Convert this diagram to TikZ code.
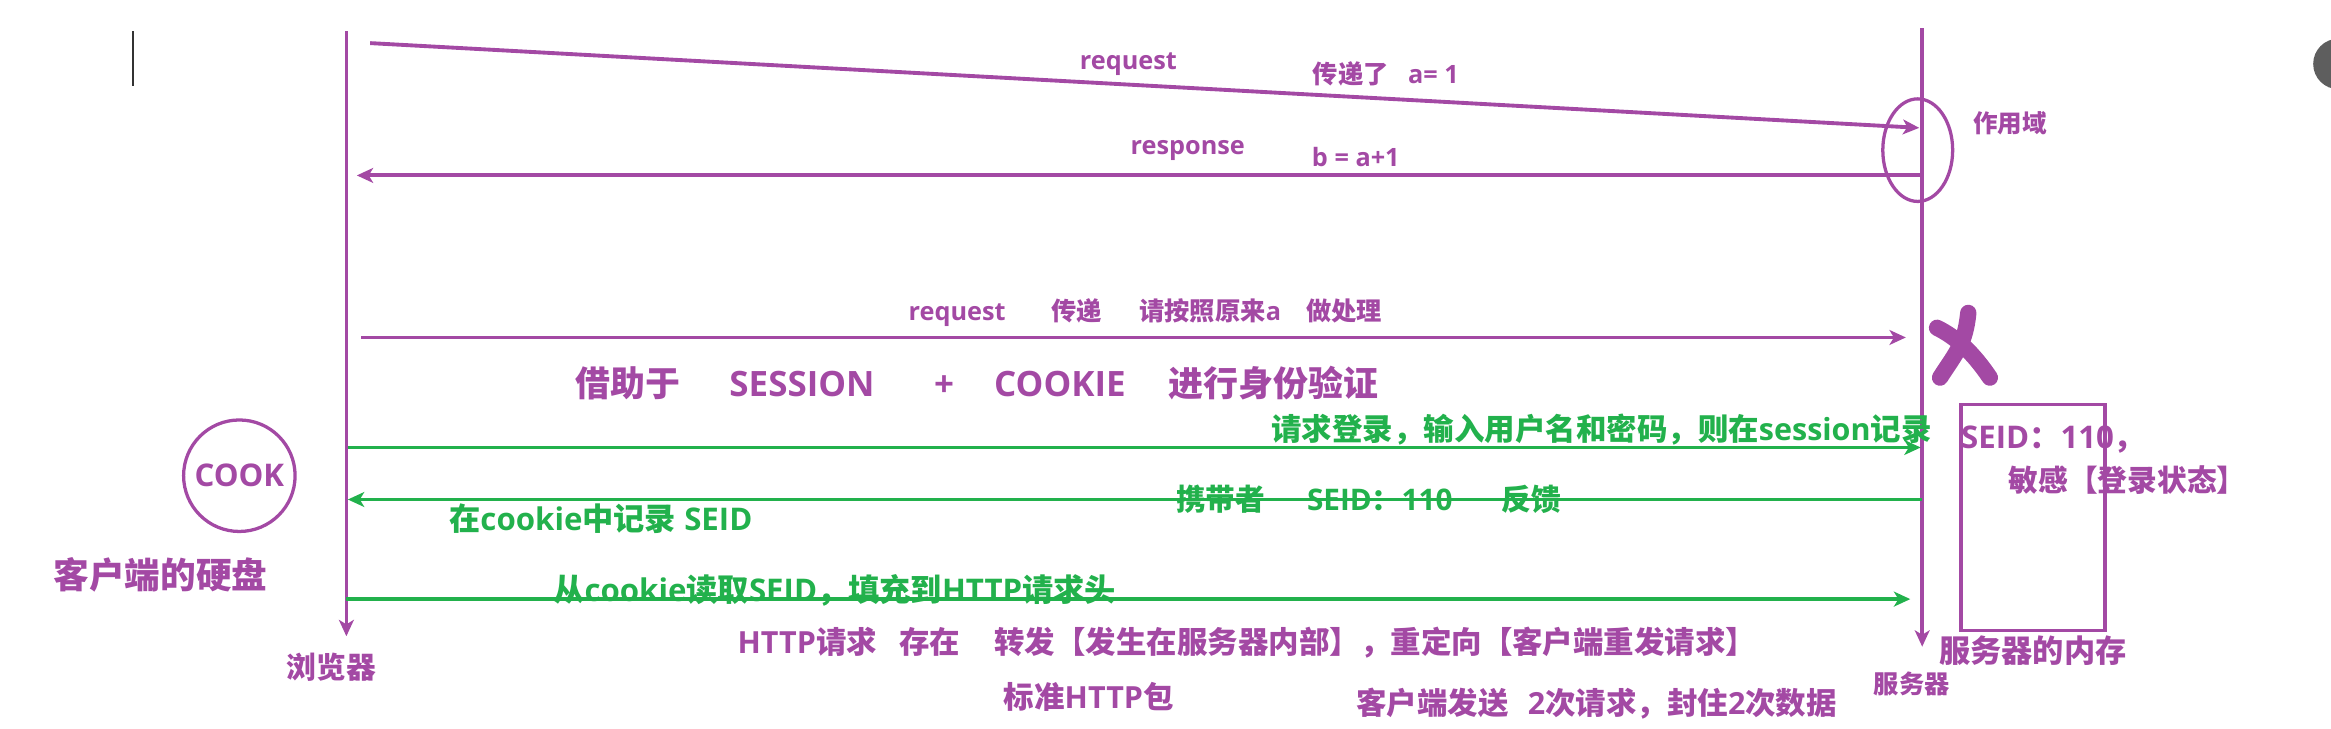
\documentclass[tikz,border=0pt]{standalone}
\usepackage{fontspec}
\setmainfont{Open Sans}
\newfontfamily\zhfont{Noto Sans CJK SC}
\newcommand\zh[1]{{\zhfont #1}}
\usetikzlibrary{positioning, shapes.geometric, arrows.meta}
\definecolor{purp}{HTML}{A349A4}
\definecolor{grn}{HTML}{22B14C}
\definecolor{cursorgray}{HTML}{333333}
\definecolor{dotgray}{HTML}{5E5E5E}

\begin{document}
\begin{tikzpicture}[x=1pt, y=-1pt,
        lifeline/.style={draw=purp, line width=2.4pt, -{Stealth[length=11pt, width=10pt, inset=3pt]}},
        msg/.style={draw=purp, line width=2.6pt, -{Stealth[length=11pt, width=10pt, inset=3pt]}},
        gmsg/.style={draw=grn, line width=2.6pt, -{Stealth[length=11pt, width=10pt, inset=3pt]}},
        txt/.style={inner sep=0pt, font=\bfseries\fontsize{#1}{#1}\selectfont},
        txt/.default=17,
        cross/.style={draw=purp, line width=11pt, line cap=round}
    ]
    \useasboundingbox (0,0) rectangle (1568,490);

    % cursor and the grey dot at the edge
    \coordinate (cur1) at (89.5,21);
    \coordinate (cur2) at (89.5,58);
    \draw[cursorgray, line width=1.3pt] (cur1) -- (cur2);
    \fill[dotgray] (1573,43) circle (17);

    % lifelines
    \coordinate (bTop) at (233,21);
    \coordinate (bEnd) at (233,428);
    \coordinate (sTop) at (1293,19);
    \coordinate (sEnd) at (1293,435);
    \draw[lifeline] (bTop) -- (bEnd);
    \draw[lifeline] (sTop) -- (sEnd);
    \node[txt=20, text=purp] (browserLbl) at (223,449) {\zh{浏览器}};
    \node[txt=17, text=purp] (serverLbl) at (1286,460) {\zh{服务器}};

    % first round trip
    \coordinate (m1s) at (249,29);
    \coordinate (m1e) at (1291,86);
    \coordinate (m2s) at (1293,118);
    \coordinate (m2e) at (240,118);
    \draw[msg] (m1s) -- (m1e);
    \draw[msg] (m2s) -- (m2e);
    \node[ellipse, draw=purp, line width=2.2pt, minimum width=47pt, minimum height=69pt, inner sep=0pt] (scope) at (1290,101) {};
    \node[txt=16.5, text=purp] (scopeLbl) at (1352,83) {\zh{作用域}};
    \node[txt, text=purp] (reqA) at (759,43) {request};
    \node[txt, text=purp, anchor=west] (passA) at (883,50) {\zh{传递了}\hspace{13pt}a= 1};
    \node[txt, text=purp] (respB) at (799,101) {response};
    \node[txt, text=purp] (calcB) at (912,105.6) {b = a+1};

    % second request, crossed out
    \coordinate (m3s) at (243,227);
    \coordinate (m3e) at (1282,227);
    \draw[msg] (m3s) -- (m3e);
    \node[txt, text=purp, anchor=west] (reqC) at (611,210) {request\hspace{31pt}\zh{传递}\hspace{25pt}\zh{请按照原来}a\hspace{17pt}\zh{做处理}};
    \draw[cross] (1324,210.5) .. controls (1322,231) and (1316,237) .. (1305,254);
    \draw[cross] (1303,220.5) .. controls (1316,227) and (1327,237) .. (1338.5,254);

    \node[txt=23.5, text=purp, anchor=west] (head) at (387,258) {\zh{借助于}\hspace{33pt}SESSION\hspace{40pt}+\hspace{27pt}COOKIE\hspace{29pt}\zh{进行身份验证}};

    % session + cookie exchange
    \coordinate (m4s) at (234,301);
    \coordinate (m4e) at (1292,301);
    \coordinate (m5s) at (1293,336);
    \coordinate (m5e) at (234,336);
    \coordinate (m6s) at (233,403);
    \coordinate (m6e) at (1285,403);
    \draw[gmsg] (m4s) -- (m4e);
    \draw[gmsg] (m5s) -- (m5e);
    \draw[gmsg] (m6s) -- (m6e);
    \node[txt=20.5, text=grn, anchor=west] (loginLbl) at (855,289) {\zh{请求登录，输入用户名和密码，则在}session\zh{记录}};
    \node[txt=20, text=grn, anchor=west] (carryLbl) at (791,336) {\zh{携带者}\hspace{28pt}SEID\zh{：}110\hspace{33pt}\zh{反馈}};
    \node[txt=21, text=grn, anchor=west] (recordLbl) at (302,348.6) {\zh{在}cookie\zh{中记录} SEID};
    \node[txt=21, text=grn, anchor=west] (readLbl) at (372,397) {\zh{从}cookie\zh{读取}SEID\zh{，填充到}HTTP\zh{请求头}};

    % client side storage
    \node[circle, draw=purp, line width=2.2pt, minimum size=75pt, txt=21, text=purp] (cook) at (161,320) {COOK};
    \node[txt=24, text=purp] (disk) at (108,387) {\zh{客户端的硬盘}};

    % server side storage
    \node[draw=purp, line width=2.4pt, minimum width=97pt, minimum height=152pt] (mem) at (1367.5,348) {};
    \node[txt=21, text=purp, anchor=west] (seidLbl) at (1319,295.5) {SEID\zh{：}110\zh{，}};
    \node[txt=20, text=purp, anchor=west] (stateLbl) at (1351,323) {\zh{敏感【登录状态】}};
    \node[txt=21, text=purp, below=2pt of mem] (memLbl) {\zh{服务器的内存}};

    % notes at the bottom
    \node[txt=20.5, text=purp, anchor=west] (httpLbl) at (496,432.6) {HTTP\zh{请求}\hspace{15pt}\zh{存在}\hspace{23pt}\zh{转发【发生在服务器内部】，重定向【客户端重发请求】}};
    \node[txt=20.5, text=purp, anchor=west] (pkgLbl) at (675,469) {\zh{标准}HTTP\zh{包}};
    \node[txt=20.5, text=purp, anchor=west] (twiceLbl) at (912,473) {\zh{客户端发送}\hspace{13pt}2\zh{次请求，封住}2\zh{次数据}};
\end{tikzpicture}
\end{document}
